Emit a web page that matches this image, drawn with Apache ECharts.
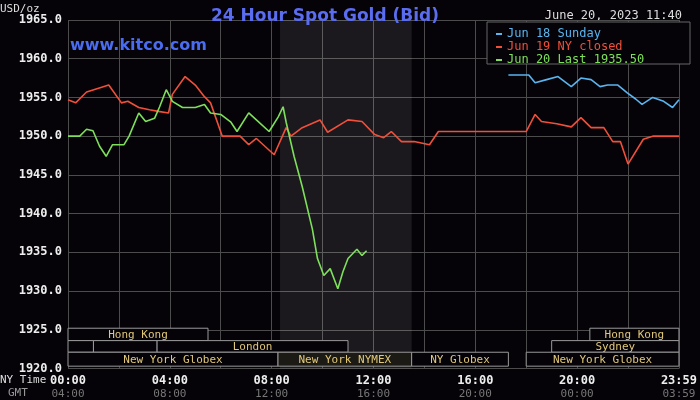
<!DOCTYPE html>
<html><head><meta charset="utf-8">
<script src="https://cdn.jsdelivr.net/npm/echarts@6/dist/echarts.min.js"></script>
<style>html,body{margin:0;background:#050308}#c{width:700px;height:400px}</style>
</head><body><div id="c"></div>
<script>
const seriesNames = ['Jun 18 Sunday', 'Jun 19 NY closed', 'Jun 20 Last 1935.50'];
const seriesColors = ['#5ab4ee', '#f0503a', '#7ee05a'];
const jun18 = [[17.3,1957.9],[18.1,1957.9],[18.35,1956.9],[18.8,1957.3],[19.25,1957.7],[19.77,1956.4],[20.15,1957.5],[20.55,1957.3],[20.9,1956.4],[21.2,1956.6],[21.6,1956.6],[21.97,1955.6],[22.3,1954.8],[22.55,1954.1],[22.97,1955.0],[23.4,1954.5],[23.75,1953.7],[24,1954.7]];
const jun19 = [[0,1954.7],[0.3,1954.3],[0.73,1955.7],[1.2,1956.2],[1.6,1956.6],[2.1,1954.3],[2.35,1954.5],[2.78,1953.7],[3.2,1953.4],[3.55,1953.2],[3.95,1953.0],[4.1,1955.4],[4.6,1957.7],[5.0,1956.6],[5.36,1955.1],[5.6,1954.3],[6.06,1950.0],[6.76,1950.0],[7.1,1948.9],[7.4,1949.7],[8.1,1947.6],[8.57,1951.1],[8.76,1950.0],[9.2,1951.1],[9.9,1952.1],[10.2,1950.5],[11.0,1952.1],[11.55,1951.9],[12.05,1950.2],[12.4,1949.8],[12.7,1950.6],[13.1,1949.3],[13.6,1949.3],[14.2,1948.9],[14.55,1950.6],[18.0,1950.6],[18.35,1952.8],[18.6,1951.9],[19.2,1951.6],[19.77,1951.2],[20.15,1952.4],[20.55,1951.1],[21.05,1951.1],[21.4,1949.3],[21.7,1949.3],[22.0,1946.4],[22.6,1949.6],[22.97,1950.0],[23.5,1950.0],[24,1950.0]];
const jun20 = [[0,1950.0],[0.46,1950.0],[0.73,1950.9],[0.98,1950.7],[1.24,1948.7],[1.5,1947.4],[1.75,1948.9],[2.2,1948.9],[2.4,1950.0],[2.78,1953.0],[3.05,1951.9],[3.4,1952.3],[3.6,1953.8],[3.86,1956.0],[4.1,1954.5],[4.5,1953.7],[5.0,1953.7],[5.36,1954.1],[5.6,1953.0],[6.0,1952.8],[6.4,1951.8],[6.64,1950.6],[7.1,1953.0],[7.4,1952.1],[7.9,1950.6],[8.26,1952.5],[8.45,1953.8],[8.57,1951.8],[8.88,1947.4],[9.2,1943.5],[9.6,1938.0],[9.8,1934.2],[10.05,1932.0],[10.3,1932.9],[10.6,1930.3],[10.8,1932.5],[11.0,1934.2],[11.35,1935.4],[11.55,1934.6],[11.73,1935.2]];
const nyTimeLabels = {0:'00:00',4:'04:00',8:'08:00',12:'12:00',16:'16:00',20:'20:00',24:'23:59'};
const gmtLabels = {0:'04:00',4:'08:00',8:'12:00',12:'16:00',16:'20:00',20:'00:00',24:'03:59'};
// [start hour, end hour, row (0 top), label]
const sessions = [[0,5.5,0,'Hong Kong'],[20.5,24,0,'Hong Kong'],[0,1,1,''],[1,3.5,1,''],[3.5,11,1,'London'],[19,24,1,'Sydney'],[0,8.25,2,'New York Globex'],[8.25,13.5,2,'New York NYMEX'],[13.5,17.3,2,'NY Globex'],[18,24,2,'New York Globex']];
const rowTops = [1925.2, 1923.6, 1922.1];
const rowBottoms = [1923.6, 1922.1, 1920.3];

const mono = 'DejaVu Sans Mono';
const chart = echarts.init(document.getElementById('c'));
const lineSeries = [jun18, jun19, jun20].map((d, i) => ({
  name: seriesNames[i], type: 'line', data: d, showSymbol: false,
  lineStyle: {color: seriesColors[i], width: 1.6}, itemStyle: {color: seriesColors[i]}, z: 5
}));
lineSeries[2].markArea = {silent: true, itemStyle: {color: 'rgba(255,255,255,0.09)'}, data: [[{xAxis: 8.33}, {xAxis: 13.5}]]};
chart.setOption({
  backgroundColor: '#050308',
  animation: false,
  title: {text: '24 Hour Spot Gold (Bid)', left: 320, top: 3, textAlign: 'center',
    textStyle: {color: '#5a6cf0', fontFamily: 'DejaVu Sans', fontSize: 17, fontWeight: 'bold'}},
  legend: {orient: 'vertical', left: 491, top: 23, itemGap: 1, itemWidth: 6, itemHeight: 2, icon: 'rect',
    textStyle: {fontFamily: mono, fontSize: 12},
    data: seriesNames.map((n, i) => ({name: n, textStyle: {color: seriesColors[i]}}))},
  graphic: [
    {type: 'text', left: 0, top: 4, style: {text: 'USD/oz', fill: '#ddd', font: '11px ' + mono}},
    {type: 'text', right: 18, top: 10, style: {text: 'June 20, 2023 11:40', fill: '#ddd', font: '12px ' + mono}},
    {type: 'text', left: 70, top: 38, style: {text: 'www.kitco.com', fill: '#4a6cf0', font: 'bold 16px DejaVu Sans'}},
    {type: 'rect', shape: {x: 487, y: 22, width: 203, height: 42}, style: {fill: '#050308', stroke: '#666', lineWidth: 1}, z: 3},
    {type: 'text', left: 0, top: 375, style: {text: 'NY Time', fill: '#ddd', font: '11px ' + mono}},
    {type: 'text', left: 8, top: 388, style: {text: 'GMT', fill: '#999', font: '11px ' + mono}}
  ],
  grid: {left: 68, right: 10, top: 20, bottom: 30},
  xAxis: {type: 'value', min: 0, max: 24, interval: 2,
    axisLine: {show: false}, axisTick: {show: false},
    splitLine: {lineStyle: {color: '#4c4c4c', width: 1}},
    axisLabel: {showMaxLabel: true, margin: 5, formatter: v => nyTimeLabels[v] !== undefined ? '{a|' + nyTimeLabels[v] + '}\n{b|' + gmtLabels[v] + '}' : '',
      rich: {a: {color: '#eee', fontFamily: mono, fontSize: 12, fontWeight: 'bold', lineHeight: 14},
             b: {color: '#777', fontFamily: mono, fontSize: 11, lineHeight: 14}}}},
  yAxis: {type: 'value', min: 1920, max: 1965, interval: 5,
    axisLine: {show: false}, axisTick: {show: false},
    splitLine: {lineStyle: {color: '#4c4c4c', width: 1}},
    axisLabel: {color: '#eee', fontFamily: mono, fontSize: 12, fontWeight: 'bold', margin: 6, formatter: v => v.toFixed(1)}},
  series: [...lineSeries, {
    type: 'custom', name: 'sessions', data: sessions, z: 4,
    renderItem: (params, api) => {
      const d = sessions[params.dataIndex];
      const p1 = api.coord([d[0], rowTops[d[2]]]);
      const p2 = api.coord([d[1], rowBottoms[d[2]]]);
      return {type: 'group', children: [
        {type: 'rect', shape: {x: p1[0], y: p1[1], width: p2[0] - p1[0], height: p2[1] - p1[1]},
          style: {fill: d[3] === 'New York NYMEX' ? '#1c1a14' : '#050308', stroke: '#999', lineWidth: 1}},
        {type: 'text', style: {text: d[3], x: (p1[0] + p2[0]) / 2, y: (p1[1] + p2[1]) / 2 + 1,
          align: 'center', verticalAlign: 'middle', fill: '#e0c878', font: '11px ' + mono}}
      ]};
    }
  }]
});
</script></body></html>
